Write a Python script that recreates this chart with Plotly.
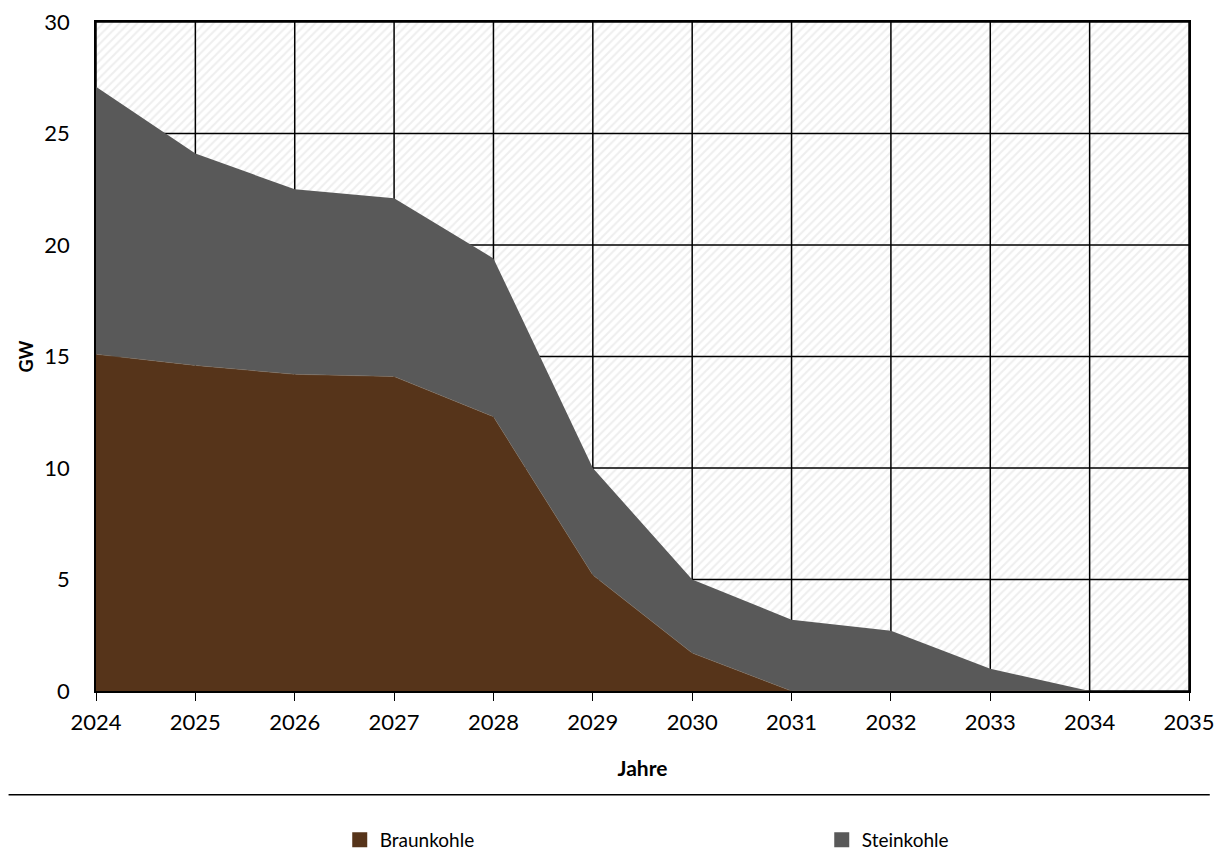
import plotly.graph_objects as go

years = [2024, 2025, 2026, 2027, 2028, 2029, 2030, 2031, 2032, 2033, 2034]
braunkohle = [15.1, 14.6, 14.2, 14.1, 12.3, 5.2, 1.7, 0.0, 0.0, 0.0, 0.0]
steinkohle = [12.0, 9.5, 8.3, 8.0, 7.1, 4.8, 3.3, 3.2, 2.7, 1.0, 0.0]

x_range = [2024, 2035]
y_range = [0, 30]
x_ticks = list(range(2024, 2036))
y_ticks = [0, 5, 10, 15, 20, 25, 30]

FONT = "Lato"
C_BRAUN = "#56341A"
C_STEIN = "#595959"

fig = go.Figure()

# hatched plot background
fig.add_trace(go.Scatter(
    x=[x_range[0], x_range[1], x_range[1], x_range[0], x_range[0]],
    y=[y_range[0], y_range[0], y_range[1], y_range[1], y_range[0]],
    mode="lines", line=dict(width=0), fill="toself",
    fillcolor="white",
    fillpattern=dict(shape="/", size=6, solidity=0.35,
                     fgcolor="#dedede", bgcolor="white"),
    showlegend=False, hoverinfo="skip",
))

# grid lines drawn above the hatch, below the areas
gx, gy = [], []
for t in x_ticks:
    gx += [t, t, None]
    gy += [y_range[0], y_range[1], None]
for t in y_ticks:
    gx += [x_range[0], x_range[1], None]
    gy += [t, t, None]
fig.add_trace(go.Scatter(x=gx, y=gy, mode="lines",
                         line=dict(color="black", width=1.5),
                         showlegend=False, hoverinfo="skip"))

fig.add_trace(go.Scatter(
    x=years, y=braunkohle, name="Braunkohle", stackgroup="one",
    mode="lines", line=dict(width=0.5, color="#7a6a5a"),
    fillcolor=C_BRAUN, showlegend=False,
))
fig.add_trace(go.Scatter(
    x=years, y=steinkohle, name="Steinkohle", stackgroup="one",
    mode="lines", line=dict(width=0, color=C_STEIN),
    fillcolor=C_STEIN, showlegend=False,
))

# legend entries with square swatches
fig.add_trace(go.Scatter(x=[None], y=[None], mode="markers", name="Braunkohle",
                         marker=dict(symbol="square", size=15, color=C_BRAUN),
                         legend="legend"))
fig.add_trace(go.Scatter(x=[None], y=[None], mode="markers", name="Steinkohle",
                         marker=dict(symbol="square", size=15, color=C_STEIN),
                         legend="legend2"))

fig.add_shape(type="line", xref="paper", yref="paper",
              x0=-0.08, x1=1.019, y0=-0.155, y1=-0.155,
              line=dict(color="black", width=1.5))

leg_common = dict(orientation="h", yanchor="middle", xanchor="left",
                  font=dict(family=FONT, size=19), bgcolor="rgba(0,0,0,0)",
                  itemwidth=30)

fig.update_layout(
    width=1214, height=844,
    margin=dict(l=88, r=33, t=14, b=161, autoexpand=False),
    paper_bgcolor="white", plot_bgcolor="white",
    font=dict(family=FONT, size=22, color="black"),
    showlegend=True,
    legend=dict(x=0.223, y=-0.2227, **leg_common),
    legend2=dict(x=0.664, y=-0.2227, **leg_common),
    xaxis=dict(range=x_range, tickvals=x_ticks, showgrid=False,
               showline=True, linecolor="black", linewidth=1.5,
               mirror=True, ticks="outside", ticklen=8, tickcolor="black",
               ticklabelstandoff=3, tickfont=dict(size=22),
               ticklabeloverflow="allow",
               title=dict(text="<b>Jahre</b>", font=dict(family=FONT, size=21), standoff=27),
               zeroline=False, automargin=False),
    yaxis=dict(range=y_range, tickvals=y_ticks, showgrid=False,
               showline=True, linecolor="black", linewidth=1.5,
               mirror=True, ticks="", ticklabelstandoff=20,
               tickfont=dict(size=22), ticklabeloverflow="allow",
               title=dict(text="<b>GW</b>", font=dict(family=FONT, size=18), standoff=6),
               zeroline=False, automargin=False),
)

fig.write_html("out.html")
